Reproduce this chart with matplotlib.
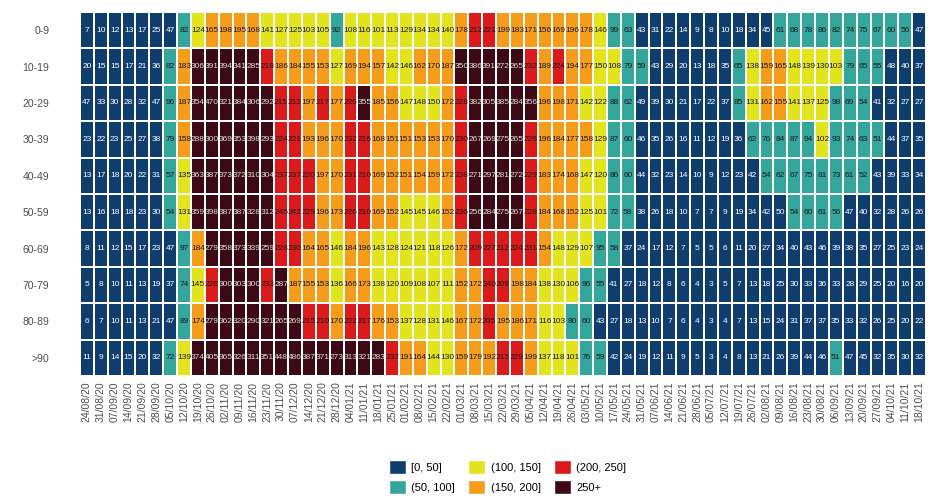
import numpy as np
import matplotlib
matplotlib.use("Agg")
import matplotlib.pyplot as plt
from matplotlib.colors import ListedColormap
from matplotlib.patches import Patch

plt.rcParams['font.family'] = ['Liberation Sans', 'DejaVu Sans']

ages = ["0-9", "10-19", "20-29", "30-39", "40-49", "50-59", "60-69", "70-79", "80-89", ">90"]

weeks = ["24/08/20", "31/08/20", "07/09/20", "14/09/20", "21/09/20", "28/09/20", "05/10/20",
         "12/10/20", "19/10/20", "26/10/20", "02/11/20", "09/11/20", "16/11/20", "23/11/20",
         "30/11/20", "07/12/20", "14/12/20", "21/12/20", "28/12/20", "04/01/21", "11/01/21",
         "18/01/21", "25/01/21", "01/02/21", "08/02/21", "15/02/21", "22/02/21", "01/03/21",
         "08/03/21", "15/03/21", "22/03/21", "29/03/21", "05/04/21", "12/04/21", "19/04/21",
         "26/04/21", "03/05/21", "10/05/21", "17/05/21", "24/05/21", "31/05/21", "07/06/21",
         "14/06/21", "21/06/21", "28/06/21", "05/07/21", "12/07/21", "19/07/21", "26/07/21",
         "02/08/21", "09/08/21", "16/08/21", "23/08/21", "30/08/21", "06/09/21", "13/09/21",
         "20/09/21", "27/09/21", "04/10/21", "11/10/21", "18/10/21"]

# weekly rate per age band, one list per row
r_0_9 = [7, 10, 12, 13, 17, 25, 47, 82, 124, 165, 198, 195, 168, 141, 127,
         125, 103, 105, 92, 108, 116, 101, 113, 129, 134, 134, 140, 178, 212, 221, 199,
         183, 171, 156, 169, 196, 178, 146, 99, 63, 43, 31, 22, 14, 9, 8, 10,
         18, 34, 45, 61, 68, 78, 86, 82, 74, 75, 67, 60, 56, 47]
r_10_19 = [20, 15, 15, 17, 21, 36, 82, 183, 306, 391, 394, 341, 285, 218, 186,
           184, 155, 153, 127, 169, 194, 157, 142, 146, 162, 170, 187, 350, 386, 391, 272,
           265, 232, 189, 224, 194, 177, 150, 108, 79, 59, 43, 29, 20, 13, 18, 35,
           65, 138, 159, 165, 148, 139, 130, 103, 79, 65, 55, 48, 40, 37]
r_20_29 = [47, 33, 30, 28, 32, 47, 96, 187, 354, 470, 321, 384, 306, 292, 215,
           212, 197, 217, 177, 226, 355, 185, 156, 147, 148, 150, 172, 228, 382, 305, 385,
           284, 356, 196, 198, 171, 142, 122, 88, 62, 49, 39, 30, 21, 17, 22, 37,
           85, 131, 162, 155, 141, 137, 125, 98, 69, 54, 41, 32, 27, 27]
r_30_39 = [23, 22, 23, 25, 27, 38, 79, 158, 288, 300, 369, 353, 398, 293, 224,
           221, 193, 196, 170, 232, 216, 168, 151, 151, 153, 153, 170, 230, 267, 269, 275,
           265, 226, 196, 184, 177, 158, 129, 87, 60, 46, 35, 26, 16, 11, 12, 19,
           36, 62, 76, 84, 87, 94, 102, 93, 74, 63, 51, 44, 37, 35]
r_40_49 = [13, 17, 18, 20, 22, 31, 57, 135, 363, 387, 373, 372, 310, 304, 237,
           237, 220, 197, 170, 231, 210, 169, 152, 151, 154, 159, 172, 238, 271, 297, 281,
           272, 229, 183, 174, 168, 147, 120, 86, 60, 44, 32, 23, 14, 10, 9, 12,
           23, 42, 54, 62, 67, 75, 81, 73, 61, 52, 43, 39, 33, 34]
r_50_59 = [13, 16, 18, 18, 23, 30, 54, 131, 359, 398, 387, 387, 328, 312, 245,
           242, 229, 196, 173, 226, 210, 169, 152, 145, 145, 146, 152, 236, 256, 284, 275,
           267, 228, 184, 168, 152, 125, 101, 72, 58, 38, 26, 18, 10, 7, 7, 9,
           19, 34, 42, 50, 54, 60, 61, 56, 47, 40, 32, 28, 26, 26]
r_60_69 = [8, 11, 12, 15, 17, 23, 47, 97, 184, 279, 358, 373, 339, 259, 228,
           230, 164, 165, 146, 184, 196, 143, 128, 124, 121, 118, 126, 172, 209, 227, 212,
           224, 231, 154, 148, 129, 107, 95, 58, 37, 24, 17, 12, 7, 5, 5, 6,
           11, 20, 27, 34, 40, 43, 46, 39, 38, 35, 27, 25, 23, 24]
r_70_79 = [5, 8, 10, 11, 13, 19, 37, 74, 145, 226, 300, 303, 300, 233, 287,
           187, 155, 153, 136, 166, 173, 138, 120, 109, 108, 107, 111, 152, 172, 240, 209,
           198, 184, 138, 130, 106, 96, 55, 41, 27, 18, 12, 8, 6, 4, 3, 5,
           7, 13, 18, 25, 30, 33, 36, 33, 28, 29, 25, 20, 16, 20]
r_80_89 = [6, 7, 10, 11, 13, 21, 47, 89, 174, 279, 362, 320, 290, 321, 265,
           269, 215, 210, 170, 222, 217, 176, 153, 137, 128, 131, 146, 167, 172, 205, 195,
           186, 171, 116, 103, 80, 60, 43, 27, 18, 13, 10, 7, 6, 4, 3, 4,
           7, 13, 15, 24, 31, 37, 37, 35, 33, 32, 26, 25, 20, 22]
r_90 = [11, 9, 14, 15, 20, 32, 72, 139, 374, 405, 365, 326, 311, 351, 448,
        486, 387, 371, 273, 313, 321, 283, 232, 191, 164, 144, 130, 159, 179, 192, 215,
        229, 199, 137, 118, 101, 76, 59, 42, 24, 19, 12, 11, 9, 5, 3, 4,
        8, 13, 21, 26, 39, 44, 46, 51, 47, 45, 32, 35, 30, 32]

rates = np.array([r_0_9, r_10_19, r_20_29, r_30_39, r_40_49,
                  r_50_59, r_60_69, r_70_79, r_80_89, r_90])

bin_labels = ["[0, 50]", "(50, 100]", "(100, 150]", "(150, 200]", "(200, 250]", "250+"]
bin_edges = [50, 100, 150, 200, 250]
colours = ["#0f3d6d", "#35a69b", "#e2e41e", "#f59d1b", "#db1a1b", "#3d0915"]
text_col = ["white", "#1a1a1a", "#1a1a1a", "#1a1a1a", "#1a1a1a", "#dddddd"]

cls = np.digitize(rates, bin_edges, right=True)

fig = plt.figure(figsize=(9.49, 4.98), dpi=100)
ax = fig.add_axes([80/949, 1-376/498, 846/949, 364/498])

nrow, ncol = rates.shape
ax.pcolormesh(np.arange(ncol+1)-0.5, np.arange(nrow+1)-0.5, cls,
              cmap=ListedColormap(colours), vmin=-0.5, vmax=5.5,
              edgecolors='white', linewidth=1.2)
for i in range(nrow):
    for j in range(ncol):
        ax.text(j, i, str(rates[i, j]), ha='center', va='center',
                fontsize=6, color=text_col[cls[i, j]])

ax.set_xlim(-0.5, ncol-0.5)
ax.set_ylim(nrow-0.5, -0.5)
ax.set_xticks(np.arange(ncol))
ax.set_xticklabels(weeks, rotation=90, fontsize=7.5, color='#4d4d4d')
ax.set_yticks(np.arange(nrow))
ax.set_yticklabels(ages, fontsize=7.5, color='#4d4d4d')
ax.tick_params(axis='both', length=0)
ax.tick_params(axis='y', pad=22)
ax.tick_params(axis='x', pad=4)
for s in ax.spines.values():
    s.set_visible(False)

handles = [Patch(facecolor=c, edgecolor='white', label=l) for c, l in zip(colours, bin_labels)]
fig.legend(handles=handles, ncol=3, loc='center', bbox_to_anchor=(0.535, 0.042),
           frameon=False, fontsize=8, handlelength=1.5, handleheight=1.5,
           columnspacing=1.2, handletextpad=0.5, labelspacing=0.55)

fig.savefig("out.png", dpi=100)
